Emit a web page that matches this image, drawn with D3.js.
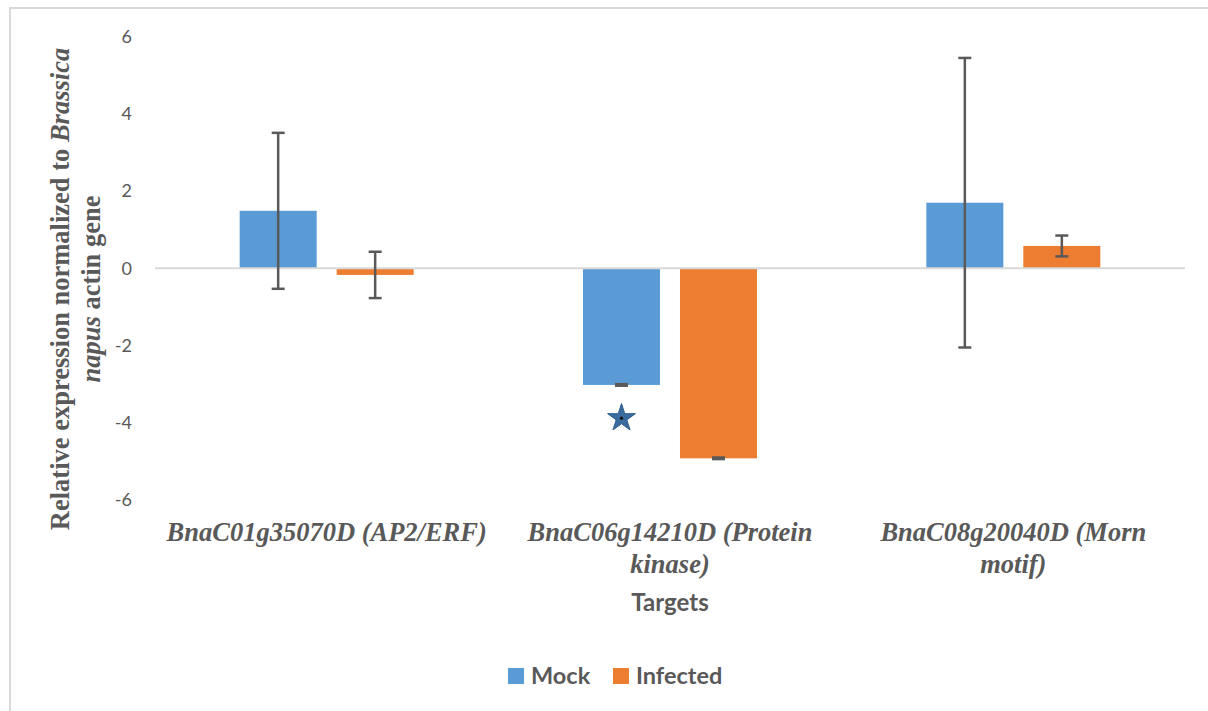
<!DOCTYPE html>
<html>
<head>
<meta charset="utf-8">
<script src="https://cdn.jsdelivr.net/npm/d3@7"></script>
<style>
  body { margin: 0; background: #fff; }
  svg { display: block; }
  .tick-label { font-family: Lato, "Open Sans", sans-serif; font-size: 18px; fill: #595959; }
  .cat-label { font-family: "Liberation Serif", "Times New Roman", serif; font-size: 26.5px; font-weight: bold; font-style: italic; fill: #595959; }
  .axis-title { font-family: "Liberation Serif", "Times New Roman", serif; font-size: 26.5px; font-weight: bold; fill: #595959; }
  .x-title { font-family: Lato, "Open Sans", sans-serif; font-size: 24px; font-weight: bold; fill: #595959; }
  .legend-label { font-family: Lato, "Open Sans", sans-serif; font-size: 23.5px; font-weight: bold; fill: #595959; }
</style>
</head>
<body>
<script>

// Categories (one per gene target) and how Excel wrapped their labels
const categories = ['BnaC01g35070D', 'BnaC06g14210D', 'BnaC08g20040D'];
const categoryLabels = [
  ['BnaC01g35070D (AP2/ERF)'],
  ['BnaC06g14210D (Protein', 'kinase)'],
  ['BnaC08g20040D (Morn', 'motif)'],
];

// Series
const seriesNames = ['Mock', 'Infected'];
const seriesColors = ['#5b9bd5', '#ed7d31'];
const mockValues = [1.49, -3.02, 1.70];
const mockErrors = [2.02, 0.02, 3.75];
const infectedValues = [-0.17, -4.92, 0.58];
const infectedErrors = [0.60, 0.02, 0.27];

// Significance marker (star under the Mock bar of the second target)
const starMarks = [{ category: 'BnaC06g14210D', series: 'Mock', value: -3.88 }];

// Axis ticks
const yTicks = [6, 4, 2, 0, -2, -4, -6];

// Layout constants
const width = 1208, height = 711;
const plot = { left: 155, right: 1185, top: 36.7, bottom: 500 };

const svg = d3.select('body')
  .append('svg')
  .attr('width', width)
  .attr('height', height);

// Chart area border (only top and left show in the crop)
svg.append('rect')
  .attr('x', 10).attr('y', 8)
  .attr('width', width + 20).attr('height', height + 20)
  .attr('fill', 'none')
  .attr('stroke', '#d9d9d9')
  .attr('stroke-width', 2);

const y = d3.scaleLinear()
  .domain([-6, 6])
  .range([plot.bottom, plot.top]);

const x0 = d3.scaleBand()
  .domain(categories)
  .range([plot.left, plot.right]);

const x1 = d3.scaleBand()
  .domain(seriesNames)
  .range([0, x0.bandwidth()])
  .paddingInner(0.206)
  .paddingOuter(0.873);

const color = d3.scaleOrdinal().domain(seriesNames).range(seriesColors);

// Flatten the series into rows
const rows = [];
categories.forEach((c, i) => {
  rows.push({ category: c, series: 'Mock', value: mockValues[i], error: mockErrors[i] });
  rows.push({ category: c, series: 'Infected', value: infectedValues[i], error: infectedErrors[i] });
});

// Y tick labels (no axis line)
svg.append('g')
  .selectAll('text')
  .data(yTicks)
  .join('text')
  .classed('tick-label', true)
  .attr('x', 132)
  .attr('y', d => y(d))
  .attr('dy', '0.35em')
  .attr('text-anchor', 'end')
  .text(d => d);

// Bars
svg.append('g')
  .selectAll('rect')
  .data(rows)
  .join('rect')
  .attr('x', d => x0(d.category) + x1(d.series))
  .attr('y', d => y(Math.max(0, d.value)))
  .attr('width', x1.bandwidth())
  .attr('height', d => Math.abs(y(d.value) - y(0)))
  .attr('fill', d => color(d.series));

// Zero line
svg.append('line')
  .attr('x1', plot.left).attr('x2', plot.right)
  .attr('y1', y(0)).attr('y2', y(0))
  .attr('stroke', '#d9d9d9')
  .attr('stroke-width', 2);

// Error bars
const cx = d => x0(d.category) + x1(d.series) + x1.bandwidth() / 2;
const errs = svg.append('g')
  .attr('stroke', '#595959')
  .attr('stroke-width', 2.5)
  .selectAll('g')
  .data(rows)
  .join('g');

errs.append('line')
  .attr('x1', cx).attr('x2', cx)
  .attr('y1', d => y(d.value + d.error))
  .attr('y2', d => y(d.value - d.error));

errs.append('line')
  .attr('x1', d => cx(d) - 6.5).attr('x2', d => cx(d) + 6.5)
  .attr('y1', d => y(d.value + d.error))
  .attr('y2', d => y(d.value + d.error));

errs.append('line')
  .attr('x1', d => cx(d) - 6.5).attr('x2', d => cx(d) + 6.5)
  .attr('y1', d => y(d.value - d.error))
  .attr('y2', d => y(d.value - d.error));

// Star marker
const star = d3.symbol().type(d3.symbolStar).size(240);
const starG = svg.append('g')
  .selectAll('g')
  .data(starMarks)
  .join('g')
  .attr('transform', d => `translate(${cx(d)},${y(d.value)})`);
starG.append('path')
  .attr('d', star)
  .attr('fill', '#3a6b9e')
  .attr('stroke', '#2f5f8f')
  .attr('stroke-width', 1);
starG.append('circle')
  .attr('r', 1.6)
  .attr('fill', '#111');

// Category labels
const catG = svg.append('g')
  .selectAll('text')
  .data(categories)
  .join('text')
  .classed('cat-label', true)
  .attr('text-anchor', 'middle')
  .attr('transform', d => `translate(${x0(d) + x0.bandwidth() / 2},541)`);

catG.selectAll('tspan')
  .data((d, i) => categoryLabels[i])
  .join('tspan')
  .attr('x', 0)
  .attr('y', (d, i) => i * 31.5)
  .text(d => d);

// X axis title
svg.append('text')
  .classed('x-title', true)
  .attr('x', (plot.left + plot.right) / 2)
  .attr('y', 611)
  .attr('text-anchor', 'middle')
  .text('Targets');

// Y axis title (two lines, with italic species name)
const yTitle1 = svg.append('text')
  .classed('axis-title', true)
  .attr('text-anchor', 'middle')
  .attr('transform', 'translate(69,289) rotate(-90)');
yTitle1.append('tspan').text('Relative expression normalized to ');
yTitle1.append('tspan').style('font-style', 'italic').text('Brassica');

const yTitle2 = svg.append('text')
  .classed('axis-title', true)
  .attr('text-anchor', 'middle')
  .attr('transform', 'translate(100,289) rotate(-90)');
yTitle2.append('tspan').style('font-style', 'italic').text('napus');
yTitle2.append('tspan').text(' actin gene');

// Legend
const legend = svg.append('g')
  .selectAll('g')
  .data(seriesNames)
  .join('g')
  .attr('transform', (d, i) => `translate(${[508, 613][i]},668)`);

legend.append('rect')
  .attr('width', 16).attr('height', 16)
  .attr('fill', d => color(d));

legend.append('text')
  .classed('legend-label', true)
  .attr('x', 23)
  .attr('y', 16)
  .text(d => d);

</script>
</body>
</html>
